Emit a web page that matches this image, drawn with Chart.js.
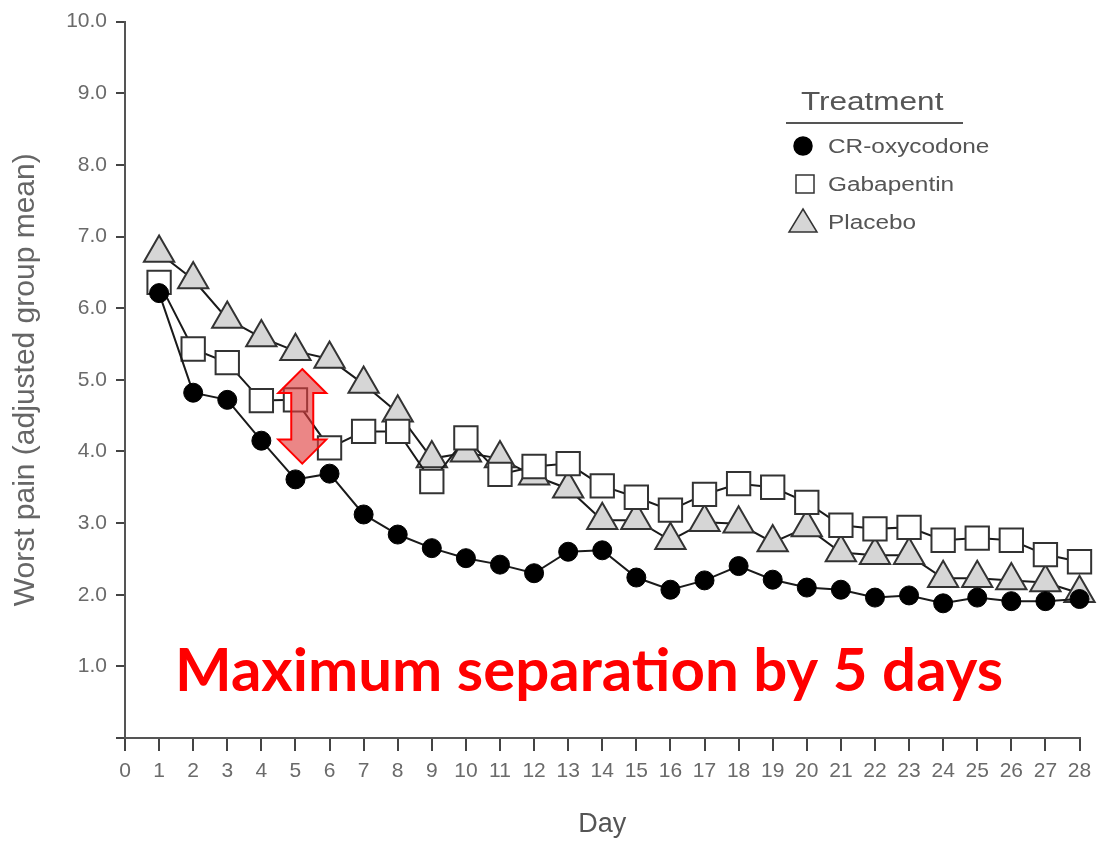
<!DOCTYPE html>
<html lang="en">
<head>
    <meta charset="UTF-8">
    <title>Worst pain by day</title>
    <script src="https://cdn.jsdelivr.net/npm/chart.js"></script>
    <style>
        body {
            margin: 0;
            padding: 0;
            background-color: #ffffff;
        }
        .chart-container {
            width: 1099px;
            height: 842px;
            position: relative;
        }
    </style>
</head>
<body>
    <div class="chart-container">
        <canvas id="painChart"></canvas>
    </div>

    <script>
        // Days 1..28 and adjusted group means
        const days = [1, 2, 3, 4, 5, 6, 7, 8, 9, 10, 11, 12, 13, 14, 15, 16, 17, 18, 19, 20, 21, 22, 23, 24, 25, 26, 27, 28];
        const oxycodone = [6.21, 4.82, 4.72, 4.15, 3.61, 3.69, 3.12, 2.84, 2.65, 2.51, 2.42, 2.30, 2.60, 2.62, 2.24, 2.07, 2.20, 2.40, 2.21, 2.10, 2.07, 1.96, 1.99, 1.88, 1.96, 1.91, 1.91, 1.94];
        const gabapentin = [6.36, 5.43, 5.24, 4.71, 4.72, 4.05, 4.28, 4.28, 3.58, 4.19, 3.68, 3.79, 3.83, 3.52, 3.36, 3.18, 3.40, 3.55, 3.50, 3.29, 2.97, 2.92, 2.94, 2.76, 2.79, 2.76, 2.56, 2.46];
        const placebo = [6.77, 6.40, 5.85, 5.59, 5.40, 5.29, 4.94, 4.54, 3.90, 3.98, 3.90, 3.66, 3.48, 3.04, 3.04, 2.76, 3.01, 2.99, 2.73, 2.94, 2.59, 2.55, 2.55, 2.23, 2.23, 2.20, 2.17, 2.02];
        const seriesNames = ['CR-oxycodone', 'Gabapentin', 'Placebo'];
        const legendTitle = 'Treatment';

        // the red double arrow (day, top value, bottom value)
        const arrowDay = 5.2;
        const arrowTop = 5.15;
        const arrowBottom = 3.83;
        const noteText = 'Maximum separation by 5 days';

        function toPoints(values) {
            return values.map((v, i) => ({ x: days[i], y: v }));
        }

        const tickGrey = '#6a6a6a';
        const sans = '"Liberation Sans", Arial, sans-serif';

        // the source figure is a bit stretched sideways, so legend text gets a horizontal scale
        function stretchedText(ctx, text, x, y, sx) {
            ctx.save();
            ctx.translate(x, y);
            ctx.scale(sx, 1);
            ctx.fillText(text, 0, 0);
            ctx.restore();
        }

        // draws the legend, the arrow and the red caption on top of the chart
        const overlayPlugin = {
            id: 'overlay',
            afterDatasetsDraw(chart) {
                const ctx = chart.ctx;
                const xs = chart.scales.x;
                const ys = chart.scales.y;

                // arrow
                const cx = xs.getPixelForValue(arrowDay);
                const top = ys.getPixelForValue(arrowTop);
                const bottom = ys.getPixelForValue(arrowBottom);
                const headW = 24, headH = 24, shaftW = 11;
                ctx.save();
                ctx.beginPath();
                ctx.moveTo(cx, top);
                ctx.lineTo(cx + headW, top + headH);
                ctx.lineTo(cx + shaftW, top + headH);
                ctx.lineTo(cx + shaftW, bottom - headH);
                ctx.lineTo(cx + headW, bottom - headH);
                ctx.lineTo(cx, bottom);
                ctx.lineTo(cx - headW, bottom - headH);
                ctx.lineTo(cx - shaftW, bottom - headH);
                ctx.lineTo(cx - shaftW, top + headH);
                ctx.lineTo(cx - headW, top + headH);
                ctx.closePath();
                ctx.fillStyle = 'rgba(222, 60, 60, 0.62)';
                ctx.fill();
                ctx.strokeStyle = '#ff0000';
                ctx.lineWidth = 2;
                ctx.stroke();
                ctx.restore();

                // caption
                ctx.save();
                ctx.fillStyle = '#ff0000';
                ctx.font = 'bold 60px Lato, "Open Sans", sans-serif';
                ctx.textBaseline = 'alphabetic';
                ctx.textAlign = 'left';
                ctx.fillText(noteText, 175, 691);
                ctx.restore();

                // legend
                ctx.save();
                ctx.fillStyle = '#555';
                ctx.textBaseline = 'middle';
                ctx.font = '25px ' + sans;
                stretchedText(ctx, legendTitle, 801, 103, 1.26);
                ctx.strokeStyle = '#555';
                ctx.lineWidth = 2;
                ctx.beginPath();
                ctx.moveTo(786, 123);
                ctx.lineTo(963, 123);
                ctx.stroke();
                ctx.font = '20px ' + sans;
                const rows = [146, 184, 222];
                chart.data.datasets.forEach((ds, i) => {
                    const y = rows[i];
                    ctx.fillStyle = ds.pointBackgroundColor;
                    ctx.strokeStyle = ds.pointBorderColor;
                    ctx.lineWidth = 1.5;
                    ctx.beginPath();
                    if (i === 0) {
                        ctx.arc(803, y, 9, 0, Math.PI * 2);
                    } else if (i === 1) {
                        ctx.rect(796, y - 9, 18, 18);
                    } else {
                        ctx.moveTo(803, y - 13);
                        ctx.lineTo(817, y + 10);
                        ctx.lineTo(789, y + 10);
                        ctx.closePath();
                    }
                    ctx.fill();
                    ctx.stroke();
                    ctx.fillStyle = '#555';
                    stretchedText(ctx, seriesNames[i], 828, y + 1, 1.22);
                });
                ctx.restore();
            }
        };

        function initChart() {
            const ctx = document.getElementById('painChart').getContext('2d');
            new Chart(ctx, {
                type: 'line',
                data: {
                    datasets: [{
                        label: seriesNames[0],
                        data: toPoints(oxycodone),
                        borderColor: '#1a1a1a',
                        borderWidth: 2,
                        clip: false,
                        pointStyle: 'circle',
                        pointRadius: 9.5,
                        pointBackgroundColor: '#000000',
                        pointBorderColor: '#000000',
                        pointBorderWidth: 1
                    }, {
                        label: seriesNames[1],
                        data: toPoints(gabapentin),
                        borderColor: '#1a1a1a',
                        borderWidth: 2,
                        clip: false,
                        pointStyle: 'rect',
                        pointRadius: 16.5,
                        pointBackgroundColor: '#ffffff',
                        pointBorderColor: '#333333',
                        pointBorderWidth: 2
                    }, {
                        label: seriesNames[2],
                        data: toPoints(placebo),
                        borderColor: '#1a1a1a',
                        borderWidth: 2,
                        clip: false,
                        pointStyle: 'triangle',
                        pointRadius: 17.5,
                        pointBackgroundColor: '#d6d6d6',
                        pointBorderColor: '#333333',
                        pointBorderWidth: 2
                    }]
                },
                options: {
                    responsive: true,
                    maintainAspectRatio: false,
                    animation: false,
                    layout: {
                        padding: { top: 20, right: 16, left: 0, bottom: 0 }
                    },
                    plugins: {
                        legend: { display: false },
                        tooltip: { enabled: false }
                    },
                    scales: {
                        x: {
                            type: 'linear',
                            min: 0,
                            max: 28,
                            afterFit: s => { s.height = 104; s.paddingRight = 0; s.paddingLeft = 0; },
                            border: { display: true, color: '#555', width: 2 },
                            grid: { drawOnChartArea: false, drawTicks: true, tickLength: 13, color: '#444', lineWidth: 2 },
                            ticks: {
                                stepSize: 1,
                                maxRotation: 0,
                                autoSkip: false,
                                color: tickGrey,
                                padding: 8,
                                font: { family: sans, size: 21 }
                            },
                            title: {
                                display: true,
                                text: 'Day',
                                color: '#555',
                                padding: { top: 0, bottom: 1 },
                                font: { family: sans, size: 27 }
                            }
                        },
                        y: {
                            min: 0,
                            max: 10,
                            afterFit: s => { s.width = 125; },
                            border: { display: true, color: '#555', width: 2 },
                            grid: { drawOnChartArea: false, drawTicks: true, tickLength: 9, color: '#444', lineWidth: 2 },
                            ticks: {
                                stepSize: 1,
                                color: tickGrey,
                                padding: 9,
                                callback: v => v === 0 ? '' : v.toFixed(1),
                                font: { family: sans, size: 21 }
                            },
                            title: {
                                display: true,
                                text: 'Worst pain (adjusted group mean)',
                                color: '#666',
                                padding: { top: 8, bottom: 0 },
                                font: { family: sans, size: 30 }
                            }
                        }
                    }
                },
                plugins: [overlayPlugin]
            });
        }

        initChart();
    </script>
</body>
</html>
